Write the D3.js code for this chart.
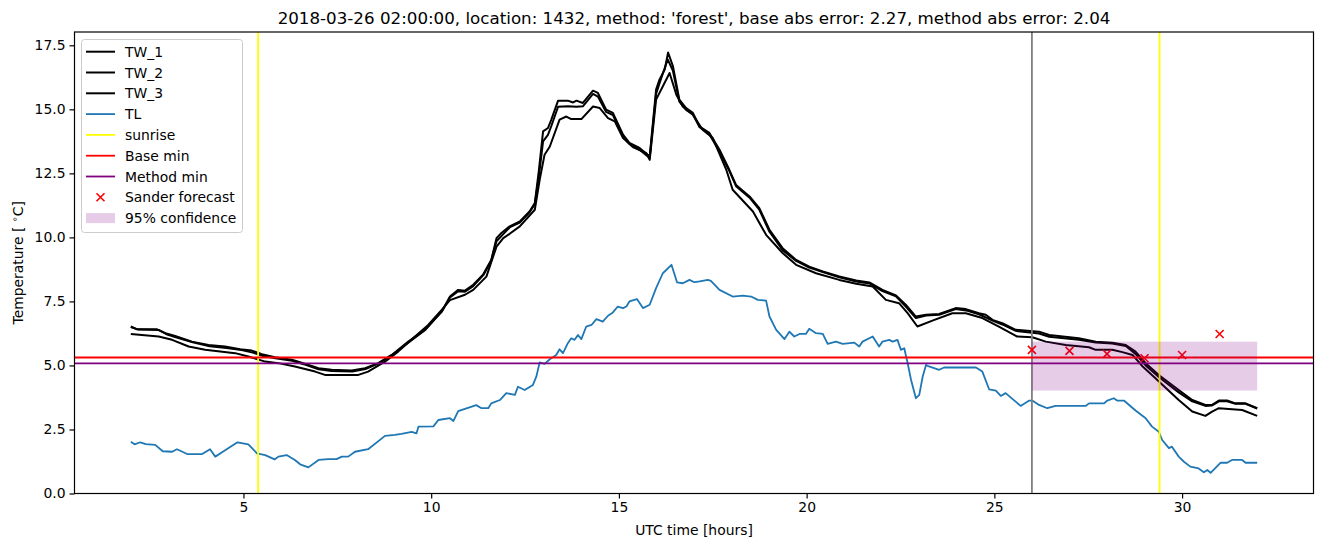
<!DOCTYPE html>
<html>
<head>
<meta charset="utf-8">
<script src="https://cdn.jsdelivr.net/npm/d3@7"></script>
<style>
  body { margin: 0; background: #fff; }
  svg { font-family: "DejaVu Sans", sans-serif; }
</style>
</head>
<body>
<svg id="vis-svg"></svg>
<script>
// water temperature sensors, [hour, temp]
var tw1 = [[2.0,6.52],[2.17,6.41],[2.7,6.41],[2.92,6.26],[3.18,6.15],[3.63,5.93],[4.07,5.8],[4.51,5.74],[4.91,5.63],[5.22,5.58],[5.49,5.44],[5.84,5.32],[6.29,5.22],[6.55,5.11],[7.0,4.89],[7.35,4.83],[7.88,4.8],[8.24,4.89],[8.59,5.09],[8.95,5.41],[9.39,5.93],[9.83,6.39],[10.28,7.1],[10.5,7.69],[10.72,7.95],[10.9,7.92],[11.12,8.15],[11.38,8.54],[11.6,9.12],[11.74,9.97],[11.87,10.17],[12.09,10.43],[12.36,10.62],[12.62,11.01],[12.76,11.34],[12.87,12.64],[12.98,14.14],[13.11,14.27],[13.2,14.6],[13.38,15.34],[13.64,15.34],[13.78,15.27],[13.87,15.34],[14.04,15.25],[14.31,15.73],[14.44,15.64],[14.66,14.99],[14.84,14.86],[15.11,14.01],[15.28,13.69],[15.55,13.49],[15.82,13.16],[15.99,15.77],[16.08,16.16],[16.22,16.55],[16.31,17.22],[16.44,16.68],[16.61,15.38],[16.79,15.05],[16.97,14.86],[17.15,14.33],[17.41,14.08],[17.68,13.42],[17.94,12.64],[18.12,12.05],[18.48,11.6],[18.74,11.14],[19.01,10.3],[19.36,9.58],[19.72,9.12],[20.07,8.86],[20.43,8.67],[20.87,8.47],[21.32,8.32],[21.67,8.24],[22.02,7.95],[22.38,7.73],[22.64,7.37],[22.91,6.91],[23.18,6.98],[23.53,7.01],[23.97,7.24],[24.24,7.2],[24.59,7.04],[24.77,6.98],[24.95,6.78],[25.21,6.65],[25.57,6.39],[26.19,6.32],[26.46,6.19],[27.25,6.06],[27.7,5.93],[28.14,5.89],[28.5,5.8],[28.76,5.54],[29.03,5.09],[29.38,4.63],[29.91,4.04],[30.27,3.65],[30.62,3.46],[30.8,3.46],[30.98,3.63],[31.2,3.63],[31.42,3.52],[31.69,3.52],[32.0,3.33]];

var tw2 = [[2.0,6.5],[2.2,6.4],[2.75,6.38],[2.95,6.22],[3.2,6.1],[3.65,5.9],[4.1,5.75],[4.55,5.68],[4.95,5.6],[5.25,5.5],[5.5,5.38],[5.85,5.28],[6.3,5.18],[6.6,5.05],[7.0,4.85],[7.35,4.78],[7.9,4.76],[8.25,4.86],[8.6,5.08],[8.95,5.4],[9.4,5.9],[9.85,6.4],[10.28,7.1],[10.5,7.65],[10.72,7.9],[10.9,7.88],[11.12,8.1],[11.4,8.55],[11.6,9.1],[11.74,9.85],[11.9,10.1],[12.1,10.4],[12.36,10.58],[12.62,10.98],[12.76,11.3],[12.87,12.4],[12.98,13.75],[13.11,14.0],[13.2,14.35],[13.38,15.1],[13.64,15.12],[13.87,15.1],[14.04,15.12],[14.31,15.6],[14.44,15.5],[14.66,14.9],[14.84,14.78],[15.11,13.95],[15.28,13.65],[15.55,13.42],[15.82,13.1],[15.99,15.6],[16.1,16.1],[16.3,16.95],[16.44,16.5],[16.61,15.3],[16.79,14.98],[16.97,14.8],[17.15,14.3],[17.41,14.02],[17.68,13.35],[17.94,12.6],[18.12,12.0],[18.48,11.55],[18.74,11.08],[19.01,10.22],[19.36,9.5],[19.72,9.08],[20.07,8.82],[20.43,8.65],[20.87,8.44],[21.32,8.28],[21.67,8.2],[22.02,7.9],[22.38,7.7],[22.64,7.3],[22.91,6.85],[23.18,6.95],[23.53,6.98],[23.97,7.2],[24.24,7.15],[24.59,7.0],[24.95,6.75],[25.21,6.6],[25.57,6.35],[26.19,6.25],[26.46,6.12],[27.25,6.0],[27.7,5.9],[28.14,5.86],[28.5,5.76],[28.76,5.45],[29.03,5.0],[29.38,4.55],[29.91,3.95],[30.27,3.6],[30.62,3.42],[30.8,3.44],[30.98,3.6],[31.2,3.6],[31.42,3.5],[31.69,3.5],[32.0,3.32]];

var tw3 = [[2.0,6.23],[2.74,6.13],[3.1,6.0],[3.54,5.74],[3.98,5.61],[4.78,5.48],[5.13,5.35],[5.58,5.15],[5.93,5.09],[6.37,4.96],[6.91,4.76],[7.17,4.63],[8.06,4.63],[8.32,4.76],[8.77,5.15],[9.12,5.54],[9.57,6.13],[9.92,6.58],[10.28,7.17],[10.5,7.55],[10.9,7.76],[11.12,7.95],[11.47,8.47],[11.74,9.64],[11.92,9.97],[12.09,10.14],[12.36,10.43],[12.76,11.08],[12.89,12.25],[13.02,13.23],[13.16,13.55],[13.42,14.6],[13.6,14.72],[13.73,14.62],[14.0,14.62],[14.31,15.11],[14.49,15.05],[14.71,14.66],[14.89,14.53],[15.11,13.88],[15.37,13.53],[15.73,13.29],[15.82,13.03],[15.99,15.38],[16.35,16.42],[16.53,15.57],[16.7,15.11],[16.97,14.79],[17.23,14.2],[17.5,13.88],[17.86,12.64],[18.03,11.86],[18.57,11.01],[18.92,10.1],[19.36,9.39],[19.72,8.93],[20.25,8.6],[20.87,8.34],[21.32,8.19],[21.76,8.08],[22.11,7.56],[22.46,7.43],[22.69,7.04],[22.95,6.52],[23.35,6.75],[23.88,7.04],[24.24,7.04],[24.68,6.85],[25.12,6.52],[25.61,6.13],[26.01,6.1],[26.37,5.93],[26.9,5.8],[27.52,5.71],[27.7,5.61],[28.14,5.61],[28.41,5.52],[28.68,5.41],[28.95,4.96],[29.29,4.5],[29.91,3.65],[30.27,3.2],[30.62,3.03],[30.8,3.2],[30.98,3.33],[31.6,3.26],[32.0,3.03]];

// air temperature
var tl = [[2.0,2.02],[2.1,1.92],[2.25,2.0],[2.4,1.93],[2.65,1.9],[2.85,1.65],[3.1,1.63],[3.23,1.73],[3.5,1.54],[3.9,1.54],[4.11,1.73],[4.25,1.44],[4.42,1.6],[4.84,2.0],[5.13,1.92],[5.36,1.57],[5.58,1.5],[5.83,1.33],[5.93,1.44],[6.15,1.5],[6.37,1.31],[6.51,1.14],[6.73,1.02],[7.0,1.31],[7.26,1.34],[7.48,1.34],[7.62,1.44],[7.79,1.44],[7.97,1.63],[8.32,1.73],[8.77,2.25],[9.03,2.29],[9.21,2.33],[9.48,2.41],[9.61,2.35],[9.66,2.61],[10.06,2.62],[10.19,2.87],[10.5,2.94],[10.59,2.83],[10.72,3.22],[11.2,3.45],[11.34,3.33],[11.52,3.33],[11.6,3.52],[11.83,3.65],[12.0,3.92],[12.23,3.85],[12.31,4.17],[12.49,4.04],[12.71,4.24],[12.8,4.56],[12.89,5.12],[13.02,5.06],[13.16,5.24],[13.33,5.41],[13.42,5.63],[13.51,5.48],[13.64,5.87],[13.73,6.06],[13.82,6.0],[13.91,6.19],[14.0,6.03],[14.13,6.52],[14.27,6.58],[14.4,6.81],[14.57,6.71],[14.71,6.94],[14.84,7.07],[14.97,7.3],[15.11,7.24],[15.2,7.3],[15.28,7.5],[15.48,7.59],[15.64,7.24],[15.82,7.37],[15.99,8.02],[16.17,8.6],[16.4,8.93],[16.55,8.24],[16.7,8.21],[16.88,8.34],[17.01,8.25],[17.15,8.28],[17.37,8.34],[17.45,8.3],[17.68,7.95],[18.03,7.69],[18.3,7.73],[18.52,7.69],[18.7,7.56],[18.92,7.53],[19.01,6.91],[19.19,6.39],[19.41,6.03],[19.54,6.32],[19.67,6.13],[19.81,6.23],[19.98,6.23],[20.07,6.43],[20.25,6.26],[20.43,6.23],[20.56,5.84],[20.78,5.93],[20.96,5.84],[21.27,5.89],[21.4,5.74],[21.49,5.93],[21.76,6.13],[21.93,5.74],[22.02,5.93],[22.2,6.0],[22.29,5.93],[22.42,6.0],[22.51,5.61],[22.6,5.67],[22.69,5.09],[22.78,4.44],[22.91,3.72],[23.0,3.85],[23.09,4.56],[23.18,5.02],[23.26,4.96],[23.53,4.83],[23.66,4.92],[24.51,4.92],[24.68,4.76],[24.86,4.07],[25.04,4.02],[25.17,3.81],[25.3,3.92],[25.7,3.42],[25.93,3.63],[26.01,3.63],[26.19,3.46],[26.41,3.33],[26.63,3.42],[27.43,3.42],[27.52,3.52],[27.92,3.52],[28.01,3.63],[28.18,3.72],[28.27,3.63],[28.45,3.63],[28.76,3.24],[29.03,2.94],[29.2,2.61],[29.38,2.41],[29.47,2.09],[29.65,1.77],[29.73,1.83],[29.91,1.44],[30.05,1.24],[30.22,1.05],[30.44,0.98],[30.58,0.83],[30.67,0.92],[30.76,0.81],[31.02,1.2],[31.2,1.2],[31.33,1.31],[31.6,1.31],[31.69,1.2],[32.0,1.2]];

var sunriseHours = [5.39, 29.4];
var forecastStart = 26;
var baseMin = 5.31;
var methodMin = 5.08;
var sanderHours = [26, 27, 28, 29, 30, 31];
var sanderTemps = [5.61, 5.57, 5.45, 5.28, 5.41, 6.23];
var confidence = {x0: 26, x1: 32, low: 4.02, high: 5.93};
var xTicks = [5, 10, 15, 20, 25, 30];
var yTicks = [0, 2.5, 5, 7.5, 10, 12.5, 15, 17.5];

var titleText = "2018-03-26 02:00:00, location: 1432, method: 'forest', base abs error: 2.27, method abs error: 2.04";

var width = 1324;
var height = 547;
var margin = {top: 32, bottom: 53.5, left: 74.5, right: 10.5};

var svg = d3.select('#vis-svg')
  .attr('width', width)
  .attr('height', height);

var xScale = d3.scaleLinear()
  .domain([0.5, 33.5])
  .range([margin.left, width - margin.right]);

var yScale = d3.scaleLinear()
  .domain([0, 18.02])
  .range([height - margin.bottom, margin.top]);

var plot = svg.append('g');
plot.append('clipPath').attr('id', 'clip')
  .append('rect')
  .attr('x', margin.left).attr('y', margin.top)
  .attr('width', width - margin.left - margin.right)
  .attr('height', height - margin.top - margin.bottom);

var inner = plot.append('g').attr('clip-path', 'url(#clip)');

var line = d3.line()
  .x(function(d){return xScale(d[0]);})
  .y(function(d){return yScale(d[1]);});

// temperature lines
[tw1, tw2, tw3].forEach(function(s){
  inner.append('path')
    .attr('d', line(s))
    .attr('fill', 'none')
    .attr('stroke', 'black')
    .attr('stroke-width', 2)
    .attr('stroke-linejoin', 'round');
});

inner.append('path')
  .attr('d', line(tl))
  .attr('fill', 'none')
  .attr('stroke', '#1f77b4')
  .attr('stroke-width', 1.8)
  .attr('stroke-linejoin', 'round');

// sunrise and forecast start
inner.selectAll('.sunrise')
  .data(sunriseHours)
  .enter()
  .append('line')
  .attr('x1', function(d){return xScale(d);})
  .attr('x2', function(d){return xScale(d);})
  .attr('y1', margin.top).attr('y2', height - margin.bottom)
  .attr('stroke', 'yellow')
  .attr('stroke-width', 1.8);

inner.append('line')
  .attr('x1', xScale(forecastStart)).attr('x2', xScale(forecastStart))
  .attr('y1', margin.top).attr('y2', height - margin.bottom)
  .attr('stroke', 'gray')
  .attr('stroke-width', 1.8);

// min lines
[[baseMin, 'red'], [methodMin, 'purple']].forEach(function(m){
  inner.append('line')
    .attr('x1', margin.left).attr('x2', width - margin.right)
    .attr('y1', yScale(m[0])).attr('y2', yScale(m[0]))
    .attr('stroke', m[1])
    .attr('stroke-width', 1.8);
});

// sander forecast markers
var markSize = 4;
sanderHours.forEach(function(h, i){
  var cx = xScale(h), cy = yScale(sanderTemps[i]);
  inner.append('path')
    .attr('d', 'M' + (cx - markSize) + ',' + (cy - markSize) + 'L' + (cx + markSize) + ',' + (cy + markSize) +
      'M' + (cx - markSize) + ',' + (cy + markSize) + 'L' + (cx + markSize) + ',' + (cy - markSize))
    .attr('stroke', 'red')
    .attr('stroke-width', 1.6);
});

// confidence band
inner.append('rect')
  .attr('x', xScale(confidence.x0))
  .attr('y', yScale(confidence.high))
  .attr('width', xScale(confidence.x1) - xScale(confidence.x0))
  .attr('height', yScale(confidence.low) - yScale(confidence.high))
  .attr('fill', 'purple')
  .attr('fill-opacity', 0.2);

// axes
var xAxis = svg.append('g')
  .attr('transform', `translate(0,${height - margin.bottom})`)
  .call(d3.axisBottom(xScale).tickValues(xTicks).tickSize(5).tickPadding(4).tickFormat(d3.format('d')));

var yAxis = svg.append('g')
  .attr('transform', `translate(${margin.left},0)`)
  .call(d3.axisLeft(yScale).tickValues(yTicks).tickSize(5).tickPadding(4).tickFormat(d3.format('.1f')));

[xAxis, yAxis].forEach(function(a){
  a.select('.domain').remove();
  a.selectAll('text').attr('font-size', 13.9).attr('fill', 'black').attr('font-family', 'DejaVu Sans');
  a.selectAll('line').attr('stroke', 'black').attr('stroke-width', 1.2);
});

svg.append('rect')
  .attr('x', margin.left).attr('y', margin.top)
  .attr('width', width - margin.left - margin.right)
  .attr('height', height - margin.top - margin.bottom)
  .attr('fill', 'none')
  .attr('stroke', 'black')
  .attr('stroke-width', 1.2);

// labels
svg.append('text')
  .attr('x', (margin.left + width - margin.right) / 2)
  .attr('y', 24)
  .attr('text-anchor', 'middle')
  .attr('font-size', 16.7)
  .text(titleText);

svg.append('text')
  .attr('x', (margin.left + width - margin.right) / 2)
  .attr('y', 535)
  .attr('text-anchor', 'middle')
  .attr('font-size', 13.9)
  .text('UTC time [hours]');

var ylab = svg.append('text')
  .attr('transform', 'translate(23,' + ((margin.top + height - margin.bottom) / 2) + ') rotate(-90)')
  .attr('text-anchor', 'middle')
  .attr('font-size', 13.9);
ylab.append('tspan').text('Temperature [ ');
ylab.append('tspan').attr('font-size', 9.7).attr('dy', -5).text('∘');
ylab.append('tspan').attr('dy', 5).text('C]');

// legend
var legendItems = [
  {name: 'TW_1', type: 'line', color: 'black'},
  {name: 'TW_2', type: 'line', color: 'black'},
  {name: 'TW_3', type: 'line', color: 'black'},
  {name: 'TL', type: 'line', color: '#1f77b4'},
  {name: 'sunrise', type: 'line', color: 'yellow'},
  {name: 'Base min', type: 'line', color: 'red'},
  {name: 'Method min', type: 'line', color: 'purple'},
  {name: 'Sander forecast', type: 'x', color: 'red'},
  {name: '95% confidence', type: 'patch', color: 'purple'}
];

var legend = svg.append('g');
legend.append('rect')
  .attr('x', 81.5).attr('y', 39.5)
  .attr('width', 161).attr('height', 193)
  .attr('rx', 3)
  .attr('fill', 'white').attr('fill-opacity', 0.8)
  .attr('stroke', '#cccccc').attr('stroke-width', 1);

legendItems.forEach(function(item, i){
  var y = 51.7 + i * 20.8;
  if (item.type === 'line') {
    legend.append('line')
      .attr('x1', 86).attr('x2', 115)
      .attr('y1', y).attr('y2', y)
      .attr('stroke', item.color).attr('stroke-width', item.color === 'black' ? 2 : 1.8);
  } else if (item.type === 'x') {
    legend.append('path')
      .attr('d', 'M' + (100.5 - markSize) + ',' + (y - markSize) + 'L' + (100.5 + markSize) + ',' + (y + markSize) +
        'M' + (100.5 - markSize) + ',' + (y + markSize) + 'L' + (100.5 + markSize) + ',' + (y - markSize))
      .attr('stroke', item.color).attr('stroke-width', 1.6);
  } else {
    legend.append('rect')
      .attr('x', 86).attr('y', y - 5)
      .attr('width', 29).attr('height', 10)
      .attr('fill', item.color).attr('fill-opacity', 0.2);
  }
  legend.append('text')
    .attr('x', 125).attr('y', y + 5)
    .attr('font-size', 13.9)
    .text(item.name);
});
</script>
</body>
</html>
